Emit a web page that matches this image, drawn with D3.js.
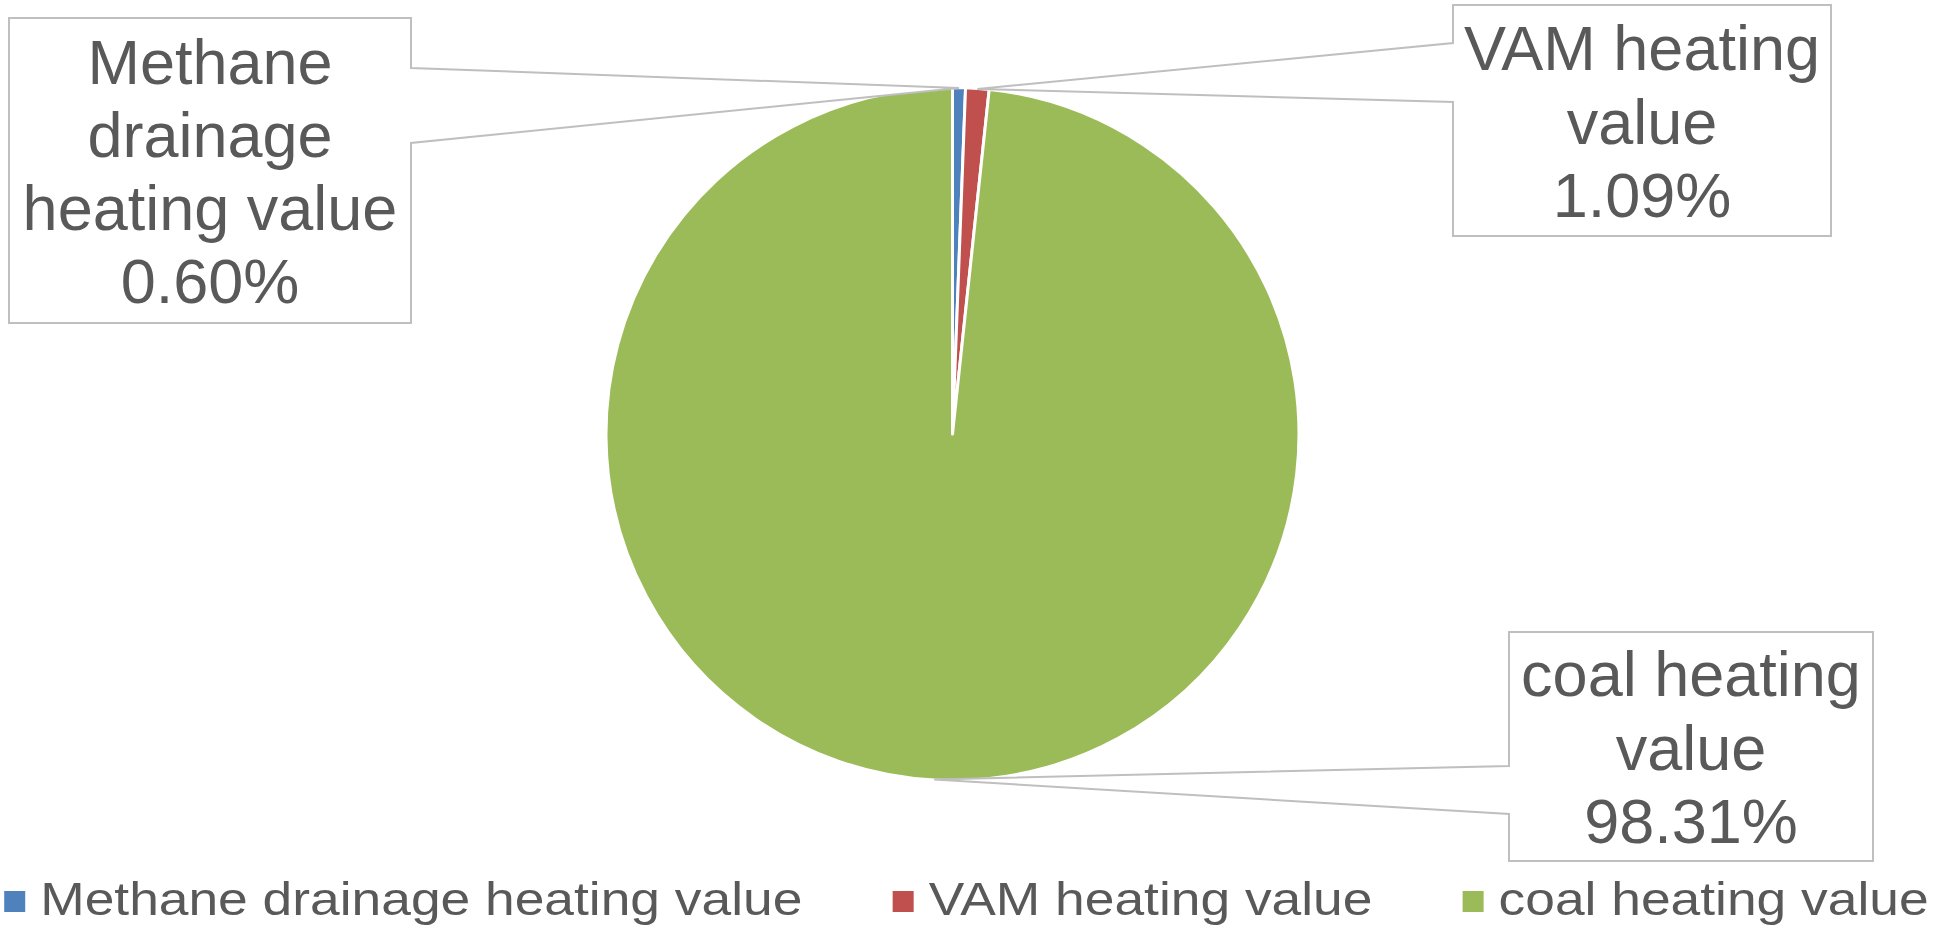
<!DOCTYPE html>
<html>
<head>
<meta charset="utf-8">
<script src="https://cdn.jsdelivr.net/npm/d3@7"></script>
<style>
  html, body { margin: 0; padding: 0; background: #fff; }
  svg { display: block; font-family: "Liberation Sans", Arial, sans-serif; }
</style>
</head>
<body>
<div id="chart"></div>
<script>
/* global d3 */

// data
var categories = [ "Methane drainage heating value", "VAM heating value", "coal heating value" ];
var shares = [ 0.60, 1.09, 98.31 ];
var colors = [ "#4f81bd", "#c0504d", "#9bbb59" ];

// callout boxes (layout only): box rect and where the wedge leaves the box
var callouts = [
  { x: 9, y: 18, w: 402, h: 305, side: "right", a: 50, b: 125 },
  { x: 1453, y: 5, w: 378, h: 231, side: "left", a: 38, b: 97 },
  { x: 1509, y: 632, w: 364, h: 229, side: "left", a: 134, b: 182 }
];

function pieCallout() {

  var width = 1933,
    height = 930,
    cx = 952.5,
    cy = 434,
    radius = 346.5,
    labelSize = 63,
    lineHeight = 73.3,
    legendSize = 46,
    legendStretch = 1.16,
    textColor = "#595959",
    boxColor = "#bfbfbf";

  function chart( selection ) {

    selection.each( function( data ) {

      var svg = d3.select( this ).append( "svg" )
        .attr( "width", width )
        .attr( "height", height );

      var pie = d3.pie().sort( null ).value( function( d ) { return d.value; } );
      var arcs = pie( data );

      var arc = d3.arc().innerRadius( 0 ).outerRadius( radius );
      var tipArc = d3.arc().innerRadius( radius - 0.5 ).outerRadius( radius - 0.5 );

      // slices
      var g = svg.append( "g" )
        .attr( "transform", "translate(" + cx + "," + cy + ")" );

      g.selectAll( ".slice" )
        .data( arcs )
        .enter()
        .append( "path" )
          .attr( "class", "slice" )
          .attr( "d", arc )
          .style( "fill", function( d, i ) { return colors[ i ]; } )
          .style( "stroke", "#fff" )
          .style( "stroke-width", 3 )
          .style( "stroke-linejoin", "round" );

      // callouts with a wedge pointing at the slice
      var labels = svg.append( "g" ).attr( "class", "callouts" );

      arcs.forEach( function( d, i ) {
        var c = callouts[ i ];
        var tip = tipArc.centroid( d );
        var tx = cx + tip[ 0 ], ty = cy + tip[ 1 ];
        var x0 = c.x, x1 = c.x + c.w, y0 = c.y, y1 = c.y + c.h;
        var p = d3.path();
        if ( c.side === "right" ) {
          p.moveTo( x0, y0 );
          p.lineTo( x1, y0 );
          p.lineTo( x1, y0 + c.a );
          p.lineTo( tx, ty );
          p.lineTo( x1, y0 + c.b );
          p.lineTo( x1, y1 );
          p.lineTo( x0, y1 );
          p.closePath();
        } else {
          p.moveTo( x1, y0 );
          p.lineTo( x0, y0 );
          p.lineTo( x0, y0 + c.a );
          p.lineTo( tx, ty );
          p.lineTo( x0, y0 + c.b );
          p.lineTo( x0, y1 );
          p.lineTo( x1, y1 );
          p.closePath();
        }

        var box = labels.append( "g" );

        box.append( "path" )
          .attr( "d", p.toString() )
          .style( "fill", "#fff" )
          .style( "stroke", boxColor )
          .style( "stroke-width", 2 );

        // wrap the category name to the box, then add the percentage
        var text = box.append( "text" )
          .attr( "text-anchor", "middle" )
          .style( "font-size", labelSize + "px" )
          .style( "fill", textColor );

        var words = d.data.name.split( " " ),
          lines = [],
          line = [];
        var probe = text.append( "tspan" );
        words.forEach( function( w ) {
          var next = line.concat( [ w ] ).join( " " );
          probe.text( next );
          if ( line.length && probe.node().getComputedTextLength() > c.w - 20 ) {
            lines.push( line.join( " " ) );
            line = [ w ];
          } else {
            line.push( w );
          }
        } );
        lines.push( line.join( " " ) );
        lines.push( d.data.value.toFixed( 2 ) + "%" );
        probe.remove();

        var mid = c.x + c.w / 2,
          first = c.y + c.h / 2 - lines.length * lineHeight / 2 + lineHeight / 2 + 23;

        text.selectAll( "tspan" )
          .data( lines )
          .enter()
          .append( "tspan" )
            .attr( "x", mid )
            .attr( "y", function( t, k ) { return first + k * lineHeight; } )
            .text( function( t ) { return t; } );
      } );

      // legend
      var legend = svg.append( "g" ).attr( "class", "legend" );
      var items = legend.selectAll( ".item" )
        .data( data )
        .enter()
        .append( "g" )
          .attr( "class", "item" );

      items.append( "rect" )
        .attr( "y", 891 )
        .attr( "width", 21 )
        .attr( "height", 21 )
        .style( "fill", function( d, i ) { return colors[ i ]; } );

      var labelsG = items.append( "g" );
      labelsG.append( "text" )
        .style( "font-size", legendSize + "px" )
        .style( "fill", textColor )
        .text( function( d ) { return d.name; } );

      var widths = [];
      labelsG.each( function() {
        widths.push( d3.select( this ).select( "text" ).node().getComputedTextLength() * legendStretch );
      } );

      var gap = 90, pad = 36;
      var total = d3.sum( widths ) + widths.length * pad + ( widths.length - 1 ) * gap;
      var x = ( width - total ) / 2;
      items.each( function( d, i ) {
        var item = d3.select( this );
        item.select( "rect" ).attr( "x", x );
        item.select( "g" )
          .attr( "transform", "translate(" + ( x + pad ) + ",915) scale(" + legendStretch + ",1)" );
        x += pad + widths[ i ] + gap;
      } );

    } );

  }

  chart.width = function( _ ) {
    if ( !arguments.length ) return width;
    width = _;
    return chart;
  };

  chart.height = function( _ ) {
    if ( !arguments.length ) return height;
    height = _;
    return chart;
  };

  chart.radius = function( _ ) {
    if ( !arguments.length ) return radius;
    radius = _;
    return chart;
  };

  return chart;

}

var rows = categories.map( function( name, i ) {
  return { name: name, value: shares[ i ] };
} );

d3.select( "#chart" )
  .datum( rows )
  .call( pieCallout() );
</script>
</body>
</html>
